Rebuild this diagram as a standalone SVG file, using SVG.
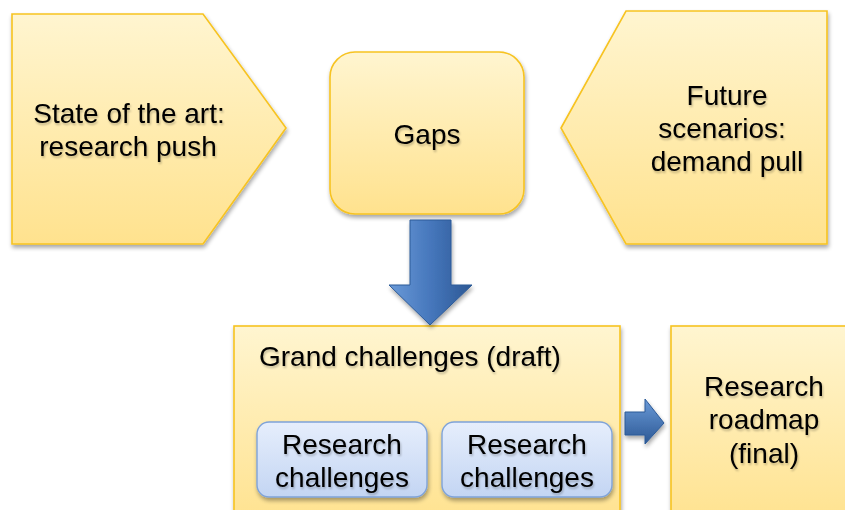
<svg xmlns="http://www.w3.org/2000/svg" width="845" height="510" viewBox="0 0 845 510">
  <defs>
    <linearGradient id="gold" x1="0" y1="0" x2="0" y2="1">
      <stop offset="0" stop-color="#fff5d0"/>
      <stop offset="1" stop-color="#ffe28e"/>
    </linearGradient>
    <linearGradient id="sky" x1="0" y1="0" x2="0" y2="1">
      <stop offset="0" stop-color="#e6eefc"/>
      <stop offset="1" stop-color="#c3d5f3"/>
    </linearGradient>
    <linearGradient id="steel" x1="0" y1="0" x2="1" y2="0">
      <stop offset="0" stop-color="#6a9ad8"/>
      <stop offset="0.5" stop-color="#4677bc"/>
      <stop offset="1" stop-color="#2c5894"/>
    </linearGradient>
    <linearGradient id="steelV" x1="0" y1="0" x2="0" y2="1">
      <stop offset="0" stop-color="#6a9ad8"/>
      <stop offset="1" stop-color="#2c5894"/>
    </linearGradient>
    <filter id="shade" x="-10%" y="-10%" width="125%" height="125%">
      <feGaussianBlur in="SourceAlpha" stdDeviation="2"/>
      <feOffset dx="1" dy="3" result="b"/>
      <feComponentTransfer><feFuncA type="linear" slope="0.35"/></feComponentTransfer>
      <feMerge><feMergeNode/><feMergeNode in="SourceGraphic"/></feMerge>
    </filter>
    <filter id="glow" x="-10%" y="-30%" width="120%" height="160%">
      <feGaussianBlur in="SourceAlpha" stdDeviation="1.2"/>
      <feOffset dx="1" dy="2"/>
      <feComponentTransfer><feFuncA type="linear" slope="0.25"/></feComponentTransfer>
      <feMerge><feMergeNode/><feMergeNode in="SourceGraphic"/></feMerge>
    </filter>
  </defs>
  <style>
    .box { fill: url(#gold); stroke: #f7c320; stroke-width: 1.6; filter: url(#shade); }
    .sub { fill: url(#sky); stroke: #7fa3d9; stroke-width: 1.4; filter: url(#shade); }
    .lbl { font-family: "Liberation Sans", Arial, sans-serif; font-size: 28px; fill: #000; text-anchor: middle; filter: url(#glow); }
    .flow { stroke: #2c5a98; stroke-width: 1; filter: url(#shade); }
  </style>

  <!-- state of the art: pentagon pointing right -->
  <g id="state-of-art">
    <polygon class="box" points="12,14 203,14 286,128 203,244 12,244"/>
    <text class="lbl" x="129" y="123">State of the art:</text>
    <text class="lbl" x="128" y="156">research push</text>
  </g>

  <!-- gaps -->
  <g id="gaps">
    <rect class="box" x="330" y="52" width="194" height="162" rx="25" ry="25"/>
    <text class="lbl" x="427" y="144">Gaps</text>
  </g>

  <!-- future scenarios: pentagon pointing left -->
  <g id="future-scenarios">
    <polygon class="box" points="561,128 626,11 827,11 827,244 626,244"/>
    <text class="lbl" x="727" y="105">Future</text>
    <text class="lbl" x="722" y="138">scenarios:</text>
    <text class="lbl" x="727" y="171">demand pull</text>
  </g>

  <!-- grand challenges container with research challenges -->
  <g id="grand-challenges">
    <rect class="box" x="234" y="326" width="386" height="200"/>
    <text class="lbl" x="259" y="366" style="text-anchor: start">Grand challenges (draft)</text>
  </g>
  <g id="research-challenges-1">
    <rect class="sub" x="257" y="422" width="170" height="75" rx="12" ry="12"/>
    <text class="lbl" x="342" y="454">Research</text>
    <text class="lbl" x="342" y="487">challenges</text>
  </g>
  <g id="research-challenges-2">
    <rect class="sub" x="442" y="422" width="170" height="75" rx="12" ry="12"/>
    <text class="lbl" x="527" y="454">Research</text>
    <text class="lbl" x="527" y="487">challenges</text>
  </g>

  <!-- research roadmap -->
  <g id="research-roadmap">
    <rect class="box" x="671" y="326" width="190" height="200"/>
    <text class="lbl" x="764" y="396">Research</text>
    <text class="lbl" x="764" y="429">roadmap</text>
    <text class="lbl" x="764" y="463">(final)</text>
  </g>

  <!-- block arrows -->
  <g id="connectors">
    <polygon class="flow" fill="url(#steel)" points="410,220 451,220 451,285 472,285 430,325 389,285 410,285"/>
    <polygon class="flow" fill="url(#steelV)" points="625,412 645,412 645,399 664,423 645,444 645,435 625,435"/>
  </g>
</svg>
